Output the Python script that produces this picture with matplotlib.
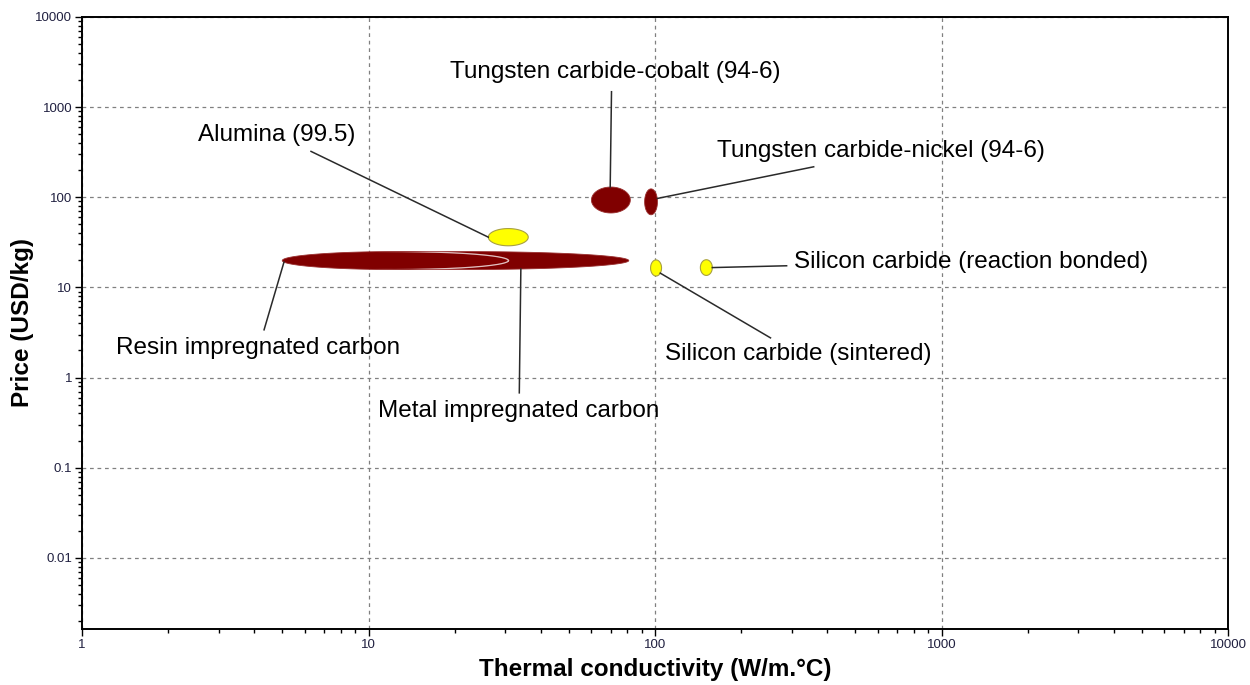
import numpy as np
import matplotlib
matplotlib.use("Agg")
import matplotlib.pyplot as plt

plt.rcParams['font.family'] = ['Liberation Sans', 'DejaVu Sans']

# material bubbles: thermal conductivity range (W/m.C), price range (USD/kg)
names = ["Metal impregnated carbon", "Resin impregnated carbon", "Alumina (99.5)",
         "Tungsten carbide-cobalt (94-6)", "Tungsten carbide-nickel (94-6)",
         "Silicon carbide (sintered)", "Silicon carbide (reaction bonded)"]
k_lo = [5.8, 5.0, 26.2, 60.0, 92.0, 96.5, 144.0]
k_hi = [81.0, 30.8, 36.1, 82.0, 102.0, 105.4, 158.5]
p_lo = [15.8, 15.8, 29.0, 67.0, 64.0, 13.4, 13.6]
p_hi = [25.0, 25.0, 45.0, 130.0, 124.0, 20.2, 20.3]
kind = ["dark", "dark", "yellow", "dark", "dark", "yellow", "yellow"]

# label placement (data coords) and where the leader line starts / hits the bubble
label_x = [33.4, 4.12, 4.80, 72.8, 614.0, 315.0, 1265.0]
label_y = [0.428, 2.14, 494.0, 2470.0, 328.0, 1.84, 19.3]
lead_x = [33.6, 4.32, 6.30, 70.5, 358.0, 253.0, 288.0]
lead_y = [0.678, 3.39, 323.0, 1483.0, 218.0, 2.76, 17.4]
hit_angle = [-70, 190, 180, 92, 15, -40, 0]

fig = plt.figure(figsize=(12.5, 6.85), dpi=100)
ax = fig.add_axes([0.0656, 0.0818, 0.9168, 0.8934])
ax.set_xscale("log")
ax.set_yscale("log")
ax.set_xlim(1, 10000)
ax.set_ylim(0.00163, 10000)

ax.grid(True, which="major", color="#808080", linestyle=(0, (3, 3)), linewidth=0.9)
ax.set_axisbelow(True)

t = np.linspace(0, 2 * np.pi, 200)
prev_dark = None
for i in range(len(names)):
    cx = (np.log10(k_lo[i]) + np.log10(k_hi[i])) / 2
    rx = (np.log10(k_hi[i]) - np.log10(k_lo[i])) / 2
    cy = (np.log10(p_lo[i]) + np.log10(p_hi[i])) / 2
    ry = (np.log10(p_hi[i]) - np.log10(p_lo[i])) / 2
    xs = 10 ** (cx + rx * np.cos(t))
    ys = 10 ** (cy + ry * np.sin(t))
    if kind[i] == "dark":
        patch = ax.fill(xs, ys, facecolor="#800000", edgecolor="#9a3030", linewidth=0.6, zorder=3)[0]
        # the light rim only shows where it lies over the bubble underneath
        if prev_dark is not None:
            rim, = ax.plot(xs, ys, color="#e0c0c0", linewidth=0.9, zorder=3.1)
            rim.set_clip_path(prev_dark)
        prev_dark = patch
    else:
        ax.fill(xs, ys, facecolor="#ffff00", edgecolor="#a8a040", linewidth=0.8, zorder=3)
    a = np.deg2rad(hit_angle[i])
    hx = 10 ** (cx + rx * np.cos(a))
    hy = 10 ** (cy + ry * np.sin(a))
    ax.plot([lead_x[i], hx], [lead_y[i], hy], color="#2a2a2a", linewidth=1.1, zorder=4)
    ax.text(label_x[i], label_y[i], names[i], ha="center", va="center",
            fontsize=17.5, color="black", zorder=5)

xt = [1, 10, 100, 1000, 10000]
yt = [0.01, 0.1, 1, 10, 100, 1000, 10000]
ax.set_xticks(xt)
ax.set_xticklabels(["1", "10", "100", "1000", "10000"])
ax.set_yticks(yt)
ax.set_yticklabels(["0.01", "0.1", "1", "10", "100", "1000", "10000"])
ax.tick_params(which="major", direction="out", length=5, width=1, labelsize=9.5,
               labelcolor="#202040", pad=2)
ax.tick_params(which="minor", direction="out", length=3, width=1)

for s in ax.spines.values():
    s.set_linewidth(1.4)
    s.set_color("black")

ax.set_xlabel("Thermal conductivity (W/m.°C)", fontsize=17.5, fontweight="bold", labelpad=5)
ax.set_ylabel("Price (USD/kg)", fontsize=17.5, fontweight="bold", labelpad=1)

fig.savefig("out.png", dpi=100)
